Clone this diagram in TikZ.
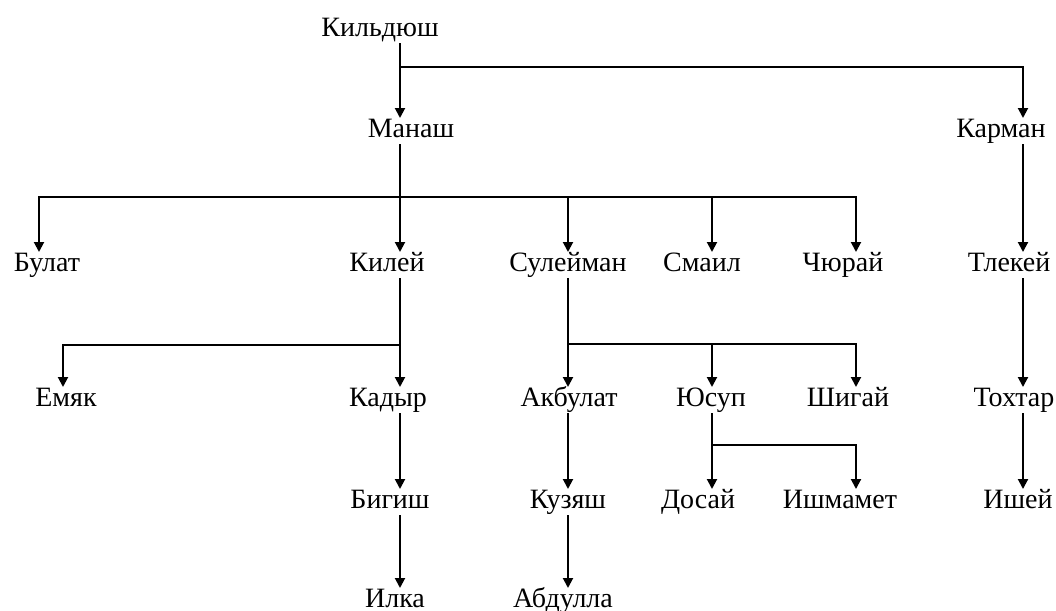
\documentclass[tikz,border=0pt]{standalone}
\usepackage{fontspec}
\setmainfont{Liberation Serif}
\usetikzlibrary{arrows.meta}

\tikzset{
 person/.style={anchor=base, inner xsep=1pt, inner ysep=2.5pt,
  text height=0.68em, text depth=0.08em, font=\fontsize{14}{16}\selectfont},
 link/.style={line width=1pt},
 arr/.style={link, -{Triangle[length=5pt,width=5pt]}}
}

\begin{document}
\begin{tikzpicture}[x=0.5pt,y=-0.5pt]
\useasboundingbox (0,0) rectangle (1056,611);

% columns of the connectors
\coordinate (c1) at (39,0);
\coordinate (c2) at (63,0);
\coordinate (c3) at (400,0);
\coordinate (c4) at (568,0);
\coordinate (c5) at (712,0);
\coordinate (c6) at (856,0);
\coordinate (c7) at (1023,0);

% generations
\node[person] (kild) at (380,36) {Кильдюш};

\node[person] (manash) at (411,137) {Манаш};
\node[person] (karman) at (1001,137) {Карман};

\node[person] (bulat) at (47,271) {Булат};
\node[person] (kilei) at (387,271) {Килей};
\node[person] (suleiman) at (568,271) {Сулейман};
\node[person] (smail) at (702,271) {Смаил};
\node[person] (churai) at (843,271) {Чюрай};
\node[person] (tlekei) at (1009,271) {Тлекей};

\node[person] (emyak) at (66,406) {Емяк};
\node[person] (kadyr) at (388,406) {Кадыр};
\node[person] (akbulat) at (569,406) {Акбулат};
\node[person] (yusup) at (711,406) {Юсуп};
\node[person] (shigai) at (848,406) {Шигай};
\node[person] (tokhtar) at (1014,406) {Тохтар};

\node[person] (bigish) at (390,508) {Бигиш};
\node[person] (kuzyash) at (568,508) {Кузяш};
\node[person] (dosai) at (698,508) {Досай};
\node[person] (ishmamet) at (840,508) {Ишмамет};
\node[person] (ishei) at (1018,508) {Ишей};

\node[person] (ilka) at (395,607) {Илка};
\node[person] (abdulla) at (563,607) {Абдулла};

% branch points
\coordinate (b1) at (400,67);
\coordinate (b2) at (400,197);
\coordinate (b3) at (400,345);
\coordinate (b4) at (568,344);
\coordinate (b5) at (712,445);

% straight lines
\foreach \a/\b/\c in {kild/manash/c3, manash/kilei/c3, kilei/kadyr/c3,
  kadyr/bigish/c3, bigish/ilka/c3, suleiman/akbulat/c4, akbulat/kuzyash/c4,
  kuzyash/abdulla/c4, yusup/dosai/c5, karman/tlekei/c7, tlekei/tokhtar/c7,
  tokhtar/ishei/c7}
 \draw[arr] (\a.south -| \c) -- (\b.north -| \c);

% side branches
\draw[arr] (b1) -| (karman.north -| c7);
\draw[arr] (b2) -| (bulat.north -| c1);
\draw[arr] (b2) -| (suleiman.north -| c4);
\draw[arr] (b2) -| (smail.north -| c5);
\draw[arr] (b2) -| (churai.north -| c6);
\draw[arr] (b3) -| (emyak.north -| c2);
\draw[arr] (b4) -| (yusup.north -| c5);
\draw[arr] (b4) -| (shigai.north -| c6);
\draw[arr] (b5) -| (ishmamet.north -| c6);

\end{tikzpicture}
\end{document}
